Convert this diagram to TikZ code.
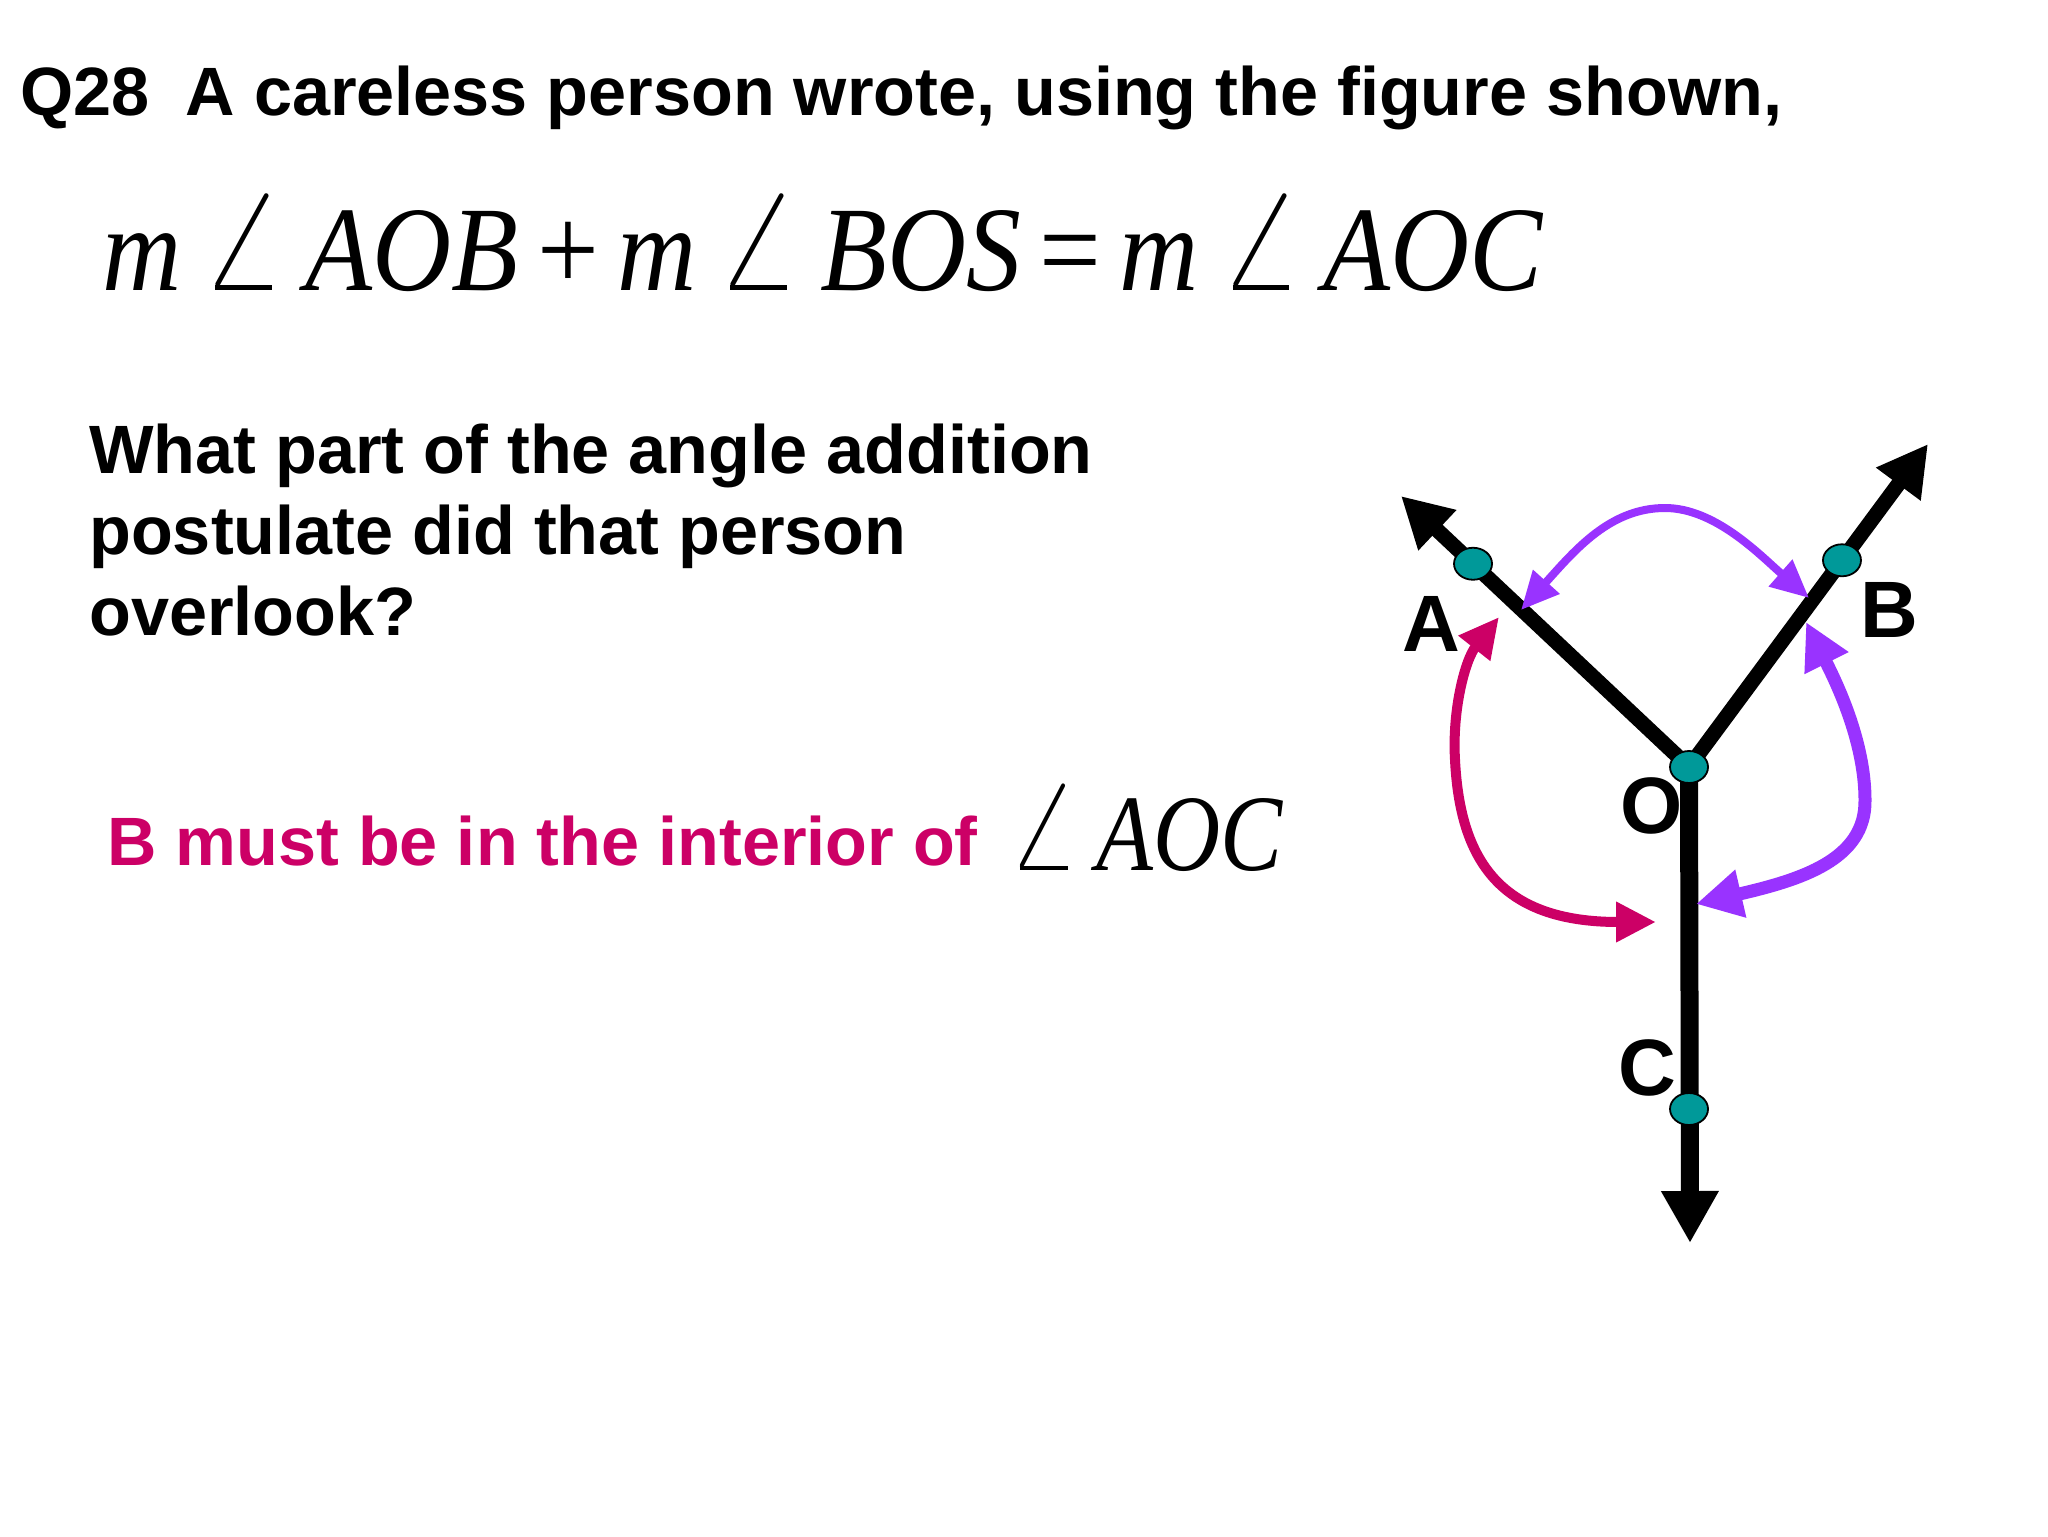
\documentclass[tikz,border=0pt]{standalone}
\usepackage{fontspec}
\setmainfont{Liberation Sans}
\newfontfamily\eqfont{Liberation Serif}
\usetikzlibrary{arrows.meta,shapes.geometric,calc}
\definecolor{tealdot}{RGB}{0,153,153}
\definecolor{violetarc}{RGB}{153,51,255}
\definecolor{pinkarc}{RGB}{204,0,102}
\newcommand\bigang{\raisebox{0pt}[0.64em][0pt]{\resizebox{0.8em}{0.78em}{$\angle$}}}
\begin{document}
\begin{tikzpicture}[x=0.5pt,y=-0.5pt]

% Style for nodes
\tikzstyle{point}=[ellipse,draw,line width=0.9pt,fill=tealdot,minimum width=19pt,minimum height=16pt,inner sep=0]
\tikzstyle{letter}=[font=\fontsize{40}{44}\selectfont\bfseries,inner sep=0]
\tikzstyle{words}=[font=\fontsize{34.2}{40}\selectfont\bfseries,inner sep=0,anchor=base west]
% Style for rays and angle arrows
\tikzstyle{ray}=[line width=7.5pt,-{Triangle[length=25pt,width=26pt]}]
\tikzstyle{arcAB}=[violetarc,line width=4pt,{Triangle[length=19pt,width=17pt]}-{Triangle[length=19pt,width=17pt]}]
\tikzstyle{arcBC}=[violetarc,line width=6.5pt,{Triangle[length=23pt,width=23pt]}-{Triangle[length=23pt,width=23pt]}]
\tikzstyle{arcAC}=[pinkarc,line width=5pt,{Triangle[length=20pt,width=19pt]}-{Triangle[length=20pt,width=19pt]}]

\fill[white] (0,0) rectangle (2048,1536);
\useasboundingbox (0,0) rectangle (2048,1536);

% Texts
\node(title)[words] at (20,115) {Q28\hspace{18pt}A careless person wrote, using the figure shown,};
\node(eq)[inner sep=0,anchor=base west] at (102,290) {\resizebox{720pt}{40pt}{\eqfont\itshape m\,\bigang\,AOB\,{\upshape +}\,m\,\bigang\,BOS\,{\upshape =}\,m\,\bigang\,AOC}};
\node(q1)[words] at (89,473) {What part of the angle addition};
\node(q2)[words] at (89,554) {postulate did that person};
\node(q3)[words] at (89,635) {overlook?};
\node(ans)[words,text=pinkarc] at (107,865) {B must be in the interior of};
\node(ang)[inner sep=0,anchor=base west] at (1006,870) {\resizebox{138pt}{36pt}{\eqfont\itshape \bigang\,AOC}};

% The figure
\coordinate(Aend) at (1401,496);
\coordinate(Bend) at (1928,444);
\coordinate(Cend) at (1690,1243);
\coordinate(O) at (1689,767);
\draw[ray] (O) -- (Aend);
\draw[ray] (O) -- (Bend);
\draw[ray,line width=9pt,-{Triangle[length=26pt,width=27pt]}] (O) -- (Cend);

\coordinate(ab1) at (1521,610);
\coordinate(ab2) at (1809,598);
\coordinate(bc1) at (1806,622);
\coordinate(bc2) at (1696,904);
\coordinate(ac1) at (1499,617);
\coordinate(ac2) at (1656,922);
\draw[arcAB] (ab1) .. controls (1575,550) and (1610,508) .. (1665,508) .. controls (1715,508) and (1760,555) .. (ab2);
\draw[arcBC] (bc1) .. controls (1835,680) and (1865,740) .. (1865,800) .. controls (1866,860) and (1800,880) .. (bc2);
\draw[arcAC] (ac1) .. controls (1465,660) and (1452,710) .. (1455,760) .. controls (1460,860) and (1500,922) .. (ac2);

\node(Odot)[point] at (O) {};
\node(Adot)[point] at ($(O)!0.75!(Aend)$) {};
\node(Bdot)[point] at ($(O)!0.64!(Bend)$) {};
\node(Cdot)[point] at (1689,1109) {};

\node(A)[letter] at (1431,624) {A};
\node(B)[letter] at (1889,610) {B};
\node(Olab)[letter] at (1652,806) {O};
\node(C)[letter] at (1647,1068) {C};
\end{tikzpicture}
\end{document}
